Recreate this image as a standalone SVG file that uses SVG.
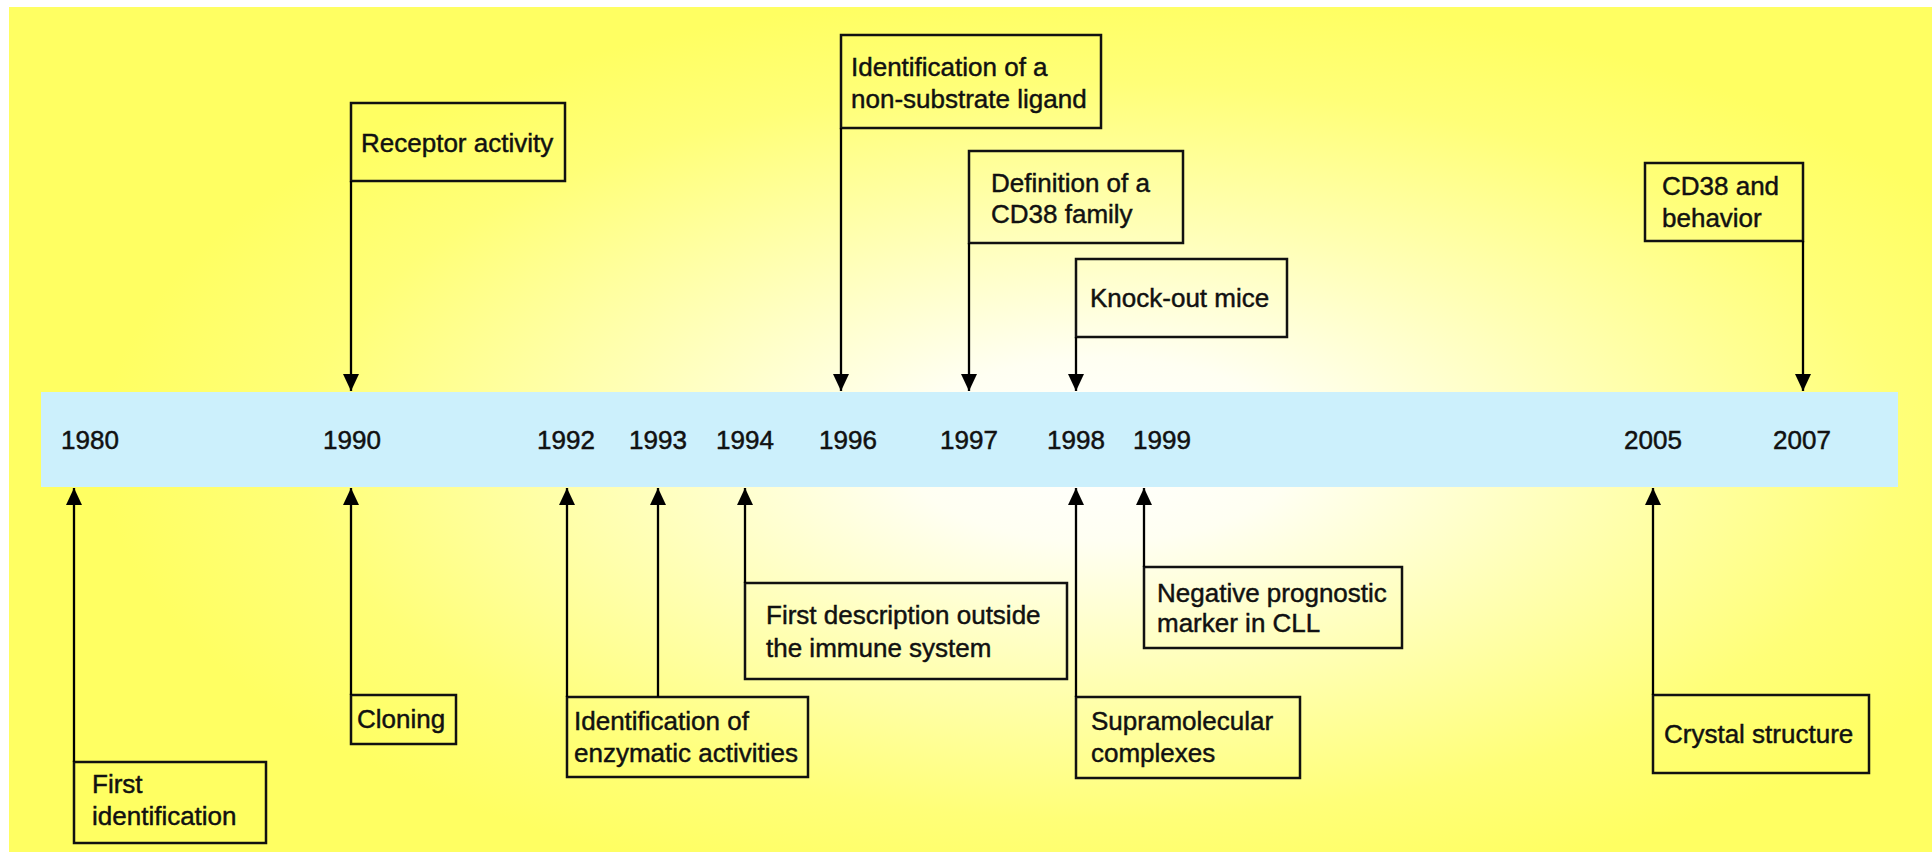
<svg xmlns="http://www.w3.org/2000/svg" width="1932" height="852" viewBox="0 0 1932 852">
  <defs>
    <radialGradient id="bg" gradientUnits="userSpaceOnUse" cx="1100" cy="450" r="1000" gradientTransform="translate(1100 450) scale(1 0.46) translate(-1100 -450)">
      <stop offset="0" stop-color="#ffffff"/>
      <stop offset="0.2" stop-color="#fffff2"/>
      <stop offset="0.5" stop-color="#ffffb4"/>
      <stop offset="0.8" stop-color="#ffff78"/>
      <stop offset="1" stop-color="#ffff62"/>
    </radialGradient>
    <marker id="arrow" viewBox="0 0 17 16" refX="17" refY="8" markerWidth="17" markerHeight="16" markerUnits="userSpaceOnUse" orient="auto">
      <path d="M0,0 L17,8 L0,16 z" fill="#000"/>
    </marker>
    <style>
      .box { fill: none; stroke: #111; stroke-width: 2.5; }
      .lbl { font-family: "Liberation Sans", Arial, sans-serif; font-size: 26px; fill: #111; stroke: #111; stroke-width: 0.45; }
      .year { font-family: "Liberation Sans", Arial, sans-serif; font-size: 26px; fill: #111; stroke: #111; stroke-width: 0.5; text-anchor: middle; }
      .conn { stroke: #000; stroke-width: 2.3; fill: none; marker-end: url(#arrow); }
    </style>
  </defs>

  <!-- page and background panel -->
  <rect x="0" y="0" width="1932" height="852" fill="#ffffff"/>
  <rect x="9" y="7" width="1923" height="845" fill="url(#bg)"/>

  <!-- timeline band -->
  <g id="timeline">
    <rect x="41" y="392" width="1857" height="95" fill="#ccf0fc"/>
    <text class="year" x="90" y="449">1980</text>
    <text class="year" x="352" y="449">1990</text>
    <text class="year" x="566" y="449">1992</text>
    <text class="year" x="658" y="449">1993</text>
    <text class="year" x="745" y="449">1994</text>
    <text class="year" x="848" y="449">1996</text>
    <text class="year" x="969" y="449">1997</text>
    <text class="year" x="1076" y="449">1998</text>
    <text class="year" x="1162" y="449">1999</text>
    <text class="year" x="1653" y="449">2005</text>
    <text class="year" x="1802" y="449">2007</text>
  </g>

  <!-- events above the timeline -->
  <g id="receptor-activity">
    <rect class="box" x="351" y="103" width="214" height="78"/>
    <text class="lbl" x="361" y="152">Receptor activity</text>
  </g>
  <g id="non-substrate-ligand">
    <rect class="box" x="841" y="35" width="260" height="93"/>
    <text class="lbl" x="851" y="76">Identification of a</text>
    <text class="lbl" x="851" y="108">non-substrate ligand</text>
  </g>
  <g id="cd38-family">
    <rect class="box" x="969" y="151" width="214" height="92"/>
    <text class="lbl" x="991" y="192">Definition of a</text>
    <text class="lbl" x="991" y="223">CD38 family</text>
  </g>
  <g id="knock-out-mice">
    <rect class="box" x="1076" y="259" width="211" height="78"/>
    <text class="lbl" x="1090" y="307">Knock-out mice</text>
  </g>
  <g id="cd38-behavior">
    <rect class="box" x="1645" y="163" width="158" height="78"/>
    <text class="lbl" x="1662" y="195">CD38 and</text>
    <text class="lbl" x="1662" y="227">behavior</text>
  </g>

  <!-- events below the timeline -->
  <g id="first-identification">
    <rect class="box" x="74" y="762" width="192" height="81"/>
    <text class="lbl" x="92" y="793">First</text>
    <text class="lbl" x="92" y="825">identification</text>
  </g>
  <g id="cloning">
    <rect class="box" x="351" y="695" width="105" height="49"/>
    <text class="lbl" x="357" y="728">Cloning</text>
  </g>
  <g id="enzymatic-activities">
    <rect class="box" x="567" y="697" width="241" height="80"/>
    <text class="lbl" x="574" y="730">Identification of</text>
    <text class="lbl" x="574" y="762">enzymatic activities</text>
  </g>
  <g id="outside-immune-system">
    <rect class="box" x="745" y="583" width="322" height="96"/>
    <text class="lbl" x="766" y="624">First description outside</text>
    <text class="lbl" x="766" y="657">the immune system</text>
  </g>
  <g id="supramolecular-complexes">
    <rect class="box" x="1076" y="697" width="224" height="81"/>
    <text class="lbl" x="1091" y="730">Supramolecular</text>
    <text class="lbl" x="1091" y="762">complexes</text>
  </g>
  <g id="prognostic-marker">
    <rect class="box" x="1144" y="567" width="258" height="81"/>
    <text class="lbl" x="1157" y="602">Negative prognostic</text>
    <text class="lbl" x="1157" y="632">marker in CLL</text>
  </g>
  <g id="crystal-structure">
    <rect class="box" x="1653" y="695" width="216" height="78"/>
    <text class="lbl" x="1664" y="743">Crystal structure</text>
  </g>

  <!-- connectors: box corner to year on the band -->
  <g id="connectors">
    <line class="conn" x1="351" y1="181" x2="351" y2="391"/>
    <line class="conn" x1="841" y1="128" x2="841" y2="391"/>
    <line class="conn" x1="969" y1="243" x2="969" y2="391"/>
    <line class="conn" x1="1076" y1="337" x2="1076" y2="391"/>
    <line class="conn" x1="1803" y1="241" x2="1803" y2="391"/>
    <line class="conn" x1="74" y1="762" x2="74" y2="488"/>
    <line class="conn" x1="351" y1="695" x2="351" y2="488"/>
    <line class="conn" x1="567" y1="697" x2="567" y2="488"/>
    <line class="conn" x1="658" y1="697" x2="658" y2="488"/>
    <line class="conn" x1="745" y1="583" x2="745" y2="488"/>
    <line class="conn" x1="1076" y1="697" x2="1076" y2="488"/>
    <line class="conn" x1="1144" y1="567" x2="1144" y2="488"/>
    <line class="conn" x1="1653" y1="695" x2="1653" y2="488"/>
  </g>
</svg>
